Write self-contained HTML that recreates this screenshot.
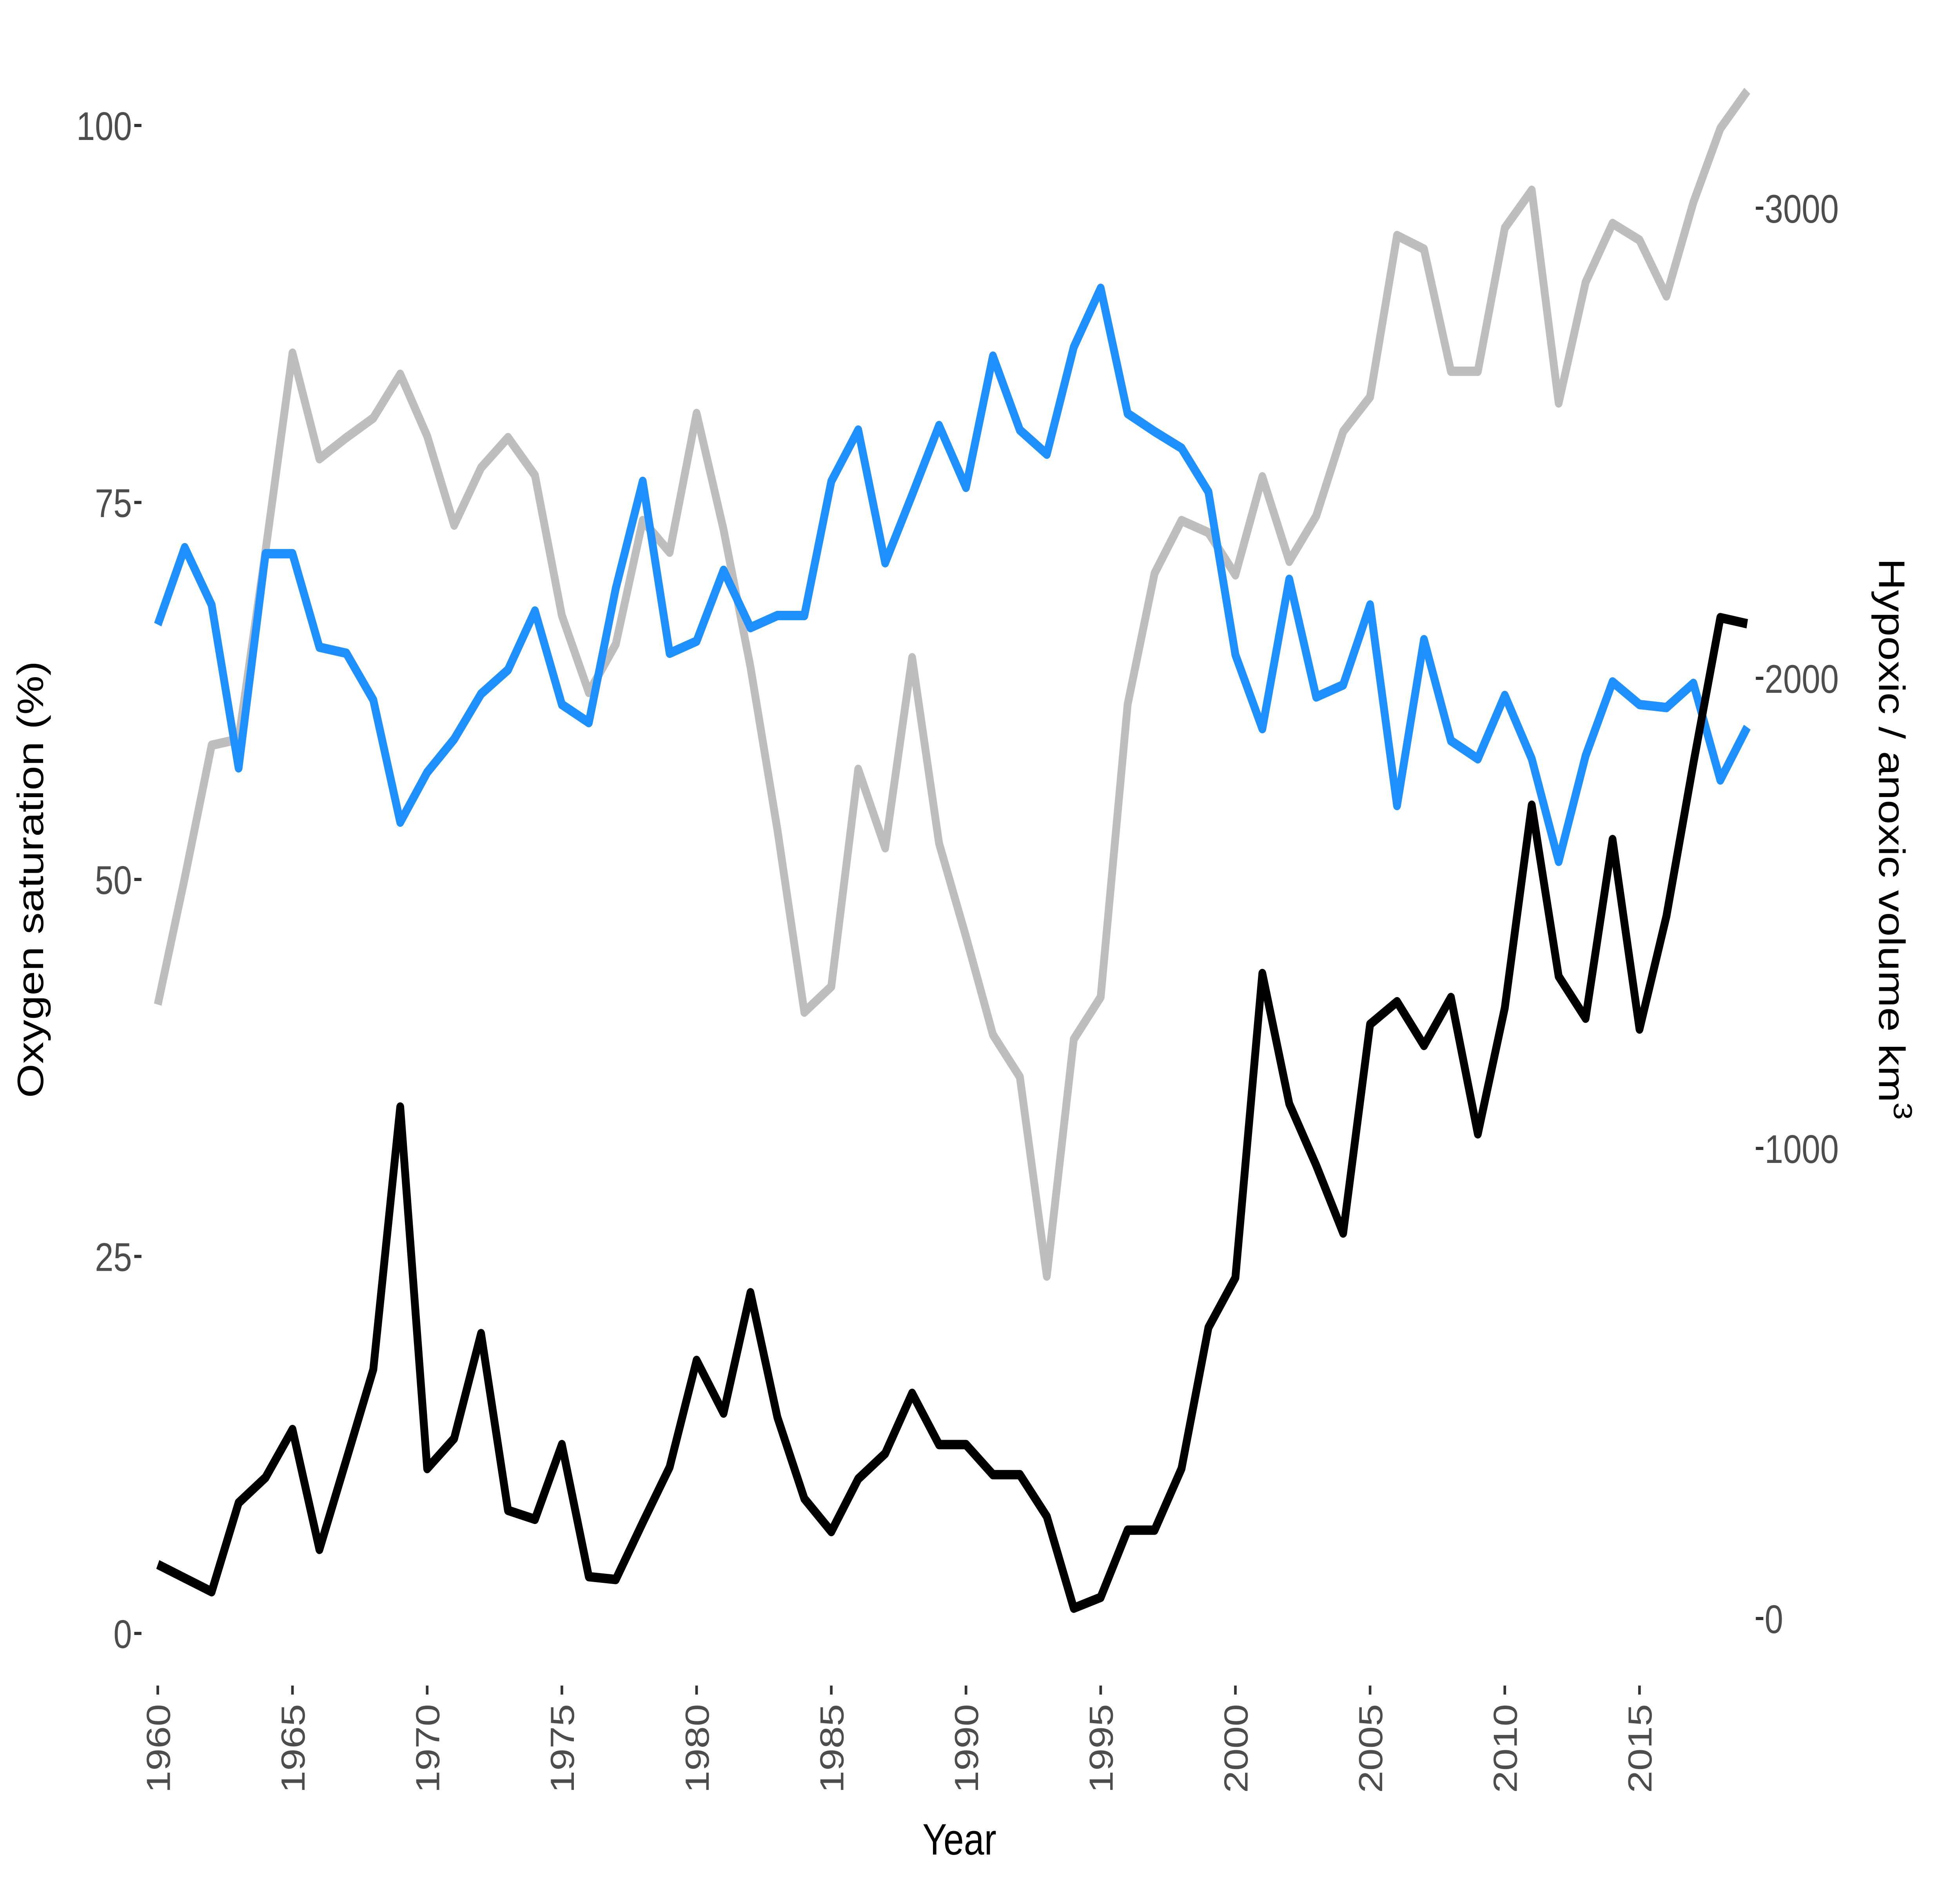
<!DOCTYPE html>
<html><head><meta charset="utf-8"><style>
html,body{margin:0;padding:0;background:#fff;width:100%;height:100%;overflow:hidden;}
svg{display:block;position:absolute;left:0;top:0;width:100vw;height:100vh;font-family:"Liberation Sans",Arial,sans-serif;}
</style></head><body>
<svg id="chart" viewBox="0 0 6000 4800" preserveAspectRatio="none" xmlns="http://www.w3.org/2000/svg">
<g id="axes"></g>
<g id="series"></g>
<text x="2937" y="4730" font-size="112" text-anchor="middle" fill="#000">Year</text>
<text transform="translate(132,2243) rotate(-90)" font-size="112" text-anchor="middle" fill="#000">Oxygen saturation (%)</text>
<text transform="translate(5752,2140) rotate(90)" font-size="112" text-anchor="middle" fill="#000">Hypoxic / anoxic volume km<tspan dy="-45" font-size="80">3</tspan></text>
</svg>
<script>
const years = [];
for (let y = 1960; y <= 2019; y++) years.push(y);
const blueValues = [66.9,72,68.2,57.4,71.6,71.6,65.4,65,61.9,53.8,57.1,59.3,62.3,63.9,67.8,61.6,60.4,69.3,76.4,65,65.8,70.5,66.7,67.5,67.5,76.4,79.8,71,75.5,80.1,76,84.7,79.8,78.2,85.3,89.2,80.9,79.7,78.6,75.7,64.9,60,69.9,62.1,62.9,68.2,54.9,65.9,59.2,58,62.2,58,51.2,58.2,63.1,61.6,61.4,63,56.6,60.1];
const grayValues = [41.7,50.1,58.9,59.3,71.8,84.9,77.9,79.3,80.6,83.5,79.4,73.5,77.3,79.3,76.8,67.5,62.4,65.6,73.8,71.7,80.9,73.2,64.1,53.3,41.2,42.9,57.3,52.1,64.7,52.4,46.2,39.7,36.9,23.7,39.4,42.2,61.6,70.3,73.8,73,70.2,76.7,71.1,74.1,79.7,82,92.7,91.8,83.7,83.7,93.2,95.7,81.6,89.6,93.5,92.4,88.7,94.9,99.8,102.3];
const blackValues = [115,86,57,246,300,402,147,338,530,1088,319,383,606,230,211,370,89,83,204,322,549,437,693,428,255,185,297,351,479,370,370,306,306,217,22,45,188,188,319,619,725,1372,1095,964,820,1264,1312,1219,1321,1031,1299,1730,1366,1277,1657,1254,1494,1819,2129,2116];
const xTicks = [1960,1965,1970,1975,1980,1985,1990,1995,2000,2005,2010,2015];
const leftTicks = [0,25,50,75,100];
const rightTicks = [0,1000,2000,3000];

const NS = "http://www.w3.org/2000/svg";
const xScale = y => 483 + (y - 1960) * 82.47;
const yLeft = v => 4166 - v * 38.46;
const yRight = v => 4128 - v * 1.199;
const axes = document.getElementById('axes');
const series = document.getElementById('series');
function mk(tag, attrs, parent){ const e=document.createElementNS(NS,tag); for(const k in attrs) e.setAttribute(k,attrs[k]); parent.appendChild(e); return e; }

leftTicks.forEach(v=>{
  const t = mk('line',{x1:411,x2:433,y1:yLeft(v),y2:yLeft(v),stroke:'#333',"stroke-width":8},axes);
  
  
  const l = mk('text',{x:404,y:yLeft(v)+37,"font-size":102,"text-anchor":"end",fill:'#4d4d4d'},axes);
  l.textContent = v;
  
  
});
rightTicks.forEach(v=>{
  const t = mk('line',{x1:5375,x2:5398,y1:yRight(v),y2:yRight(v),stroke:'#333',"stroke-width":8},axes);
  
  
  const l = mk('text',{x:5402,y:yRight(v)+37,"font-size":102,fill:'#4d4d4d'},axes);
  l.textContent = v;
  
  
});
xTicks.forEach(v=>{
  const x = xScale(v);
  const t = mk('line',{x1:x,x2:x,y1:4299,y2:4322,stroke:'#333',"stroke-width":8},axes);
  
  
  const l = mk('text',{transform:`translate(${x+37},4346) rotate(-90)`,"font-size":102,"text-anchor":"end",fill:'#4d4d4d'},axes);
  l.textContent = v;
  
  
});

function line(vals, ys, color, name){
  const d = vals.map((v,i)=>(i?'L':'M')+xScale(years[i]).toFixed(1)+' '+ys(v).toFixed(1)).join(' ');
  const p = mk('path',{d:d,fill:'none',stroke:color,"stroke-width":24,"stroke-linejoin":"round","stroke-linecap":"butt"},series);
  
  
}
line(grayValues, yLeft, '#bebebe', 'gray-series-line');
line(blueValues, yLeft, '#1e90ff', 'oxygen-saturation-line');
line(blackValues, yRight, '#000000', 'hypoxic-volume-line');
</script>
</body></html>
